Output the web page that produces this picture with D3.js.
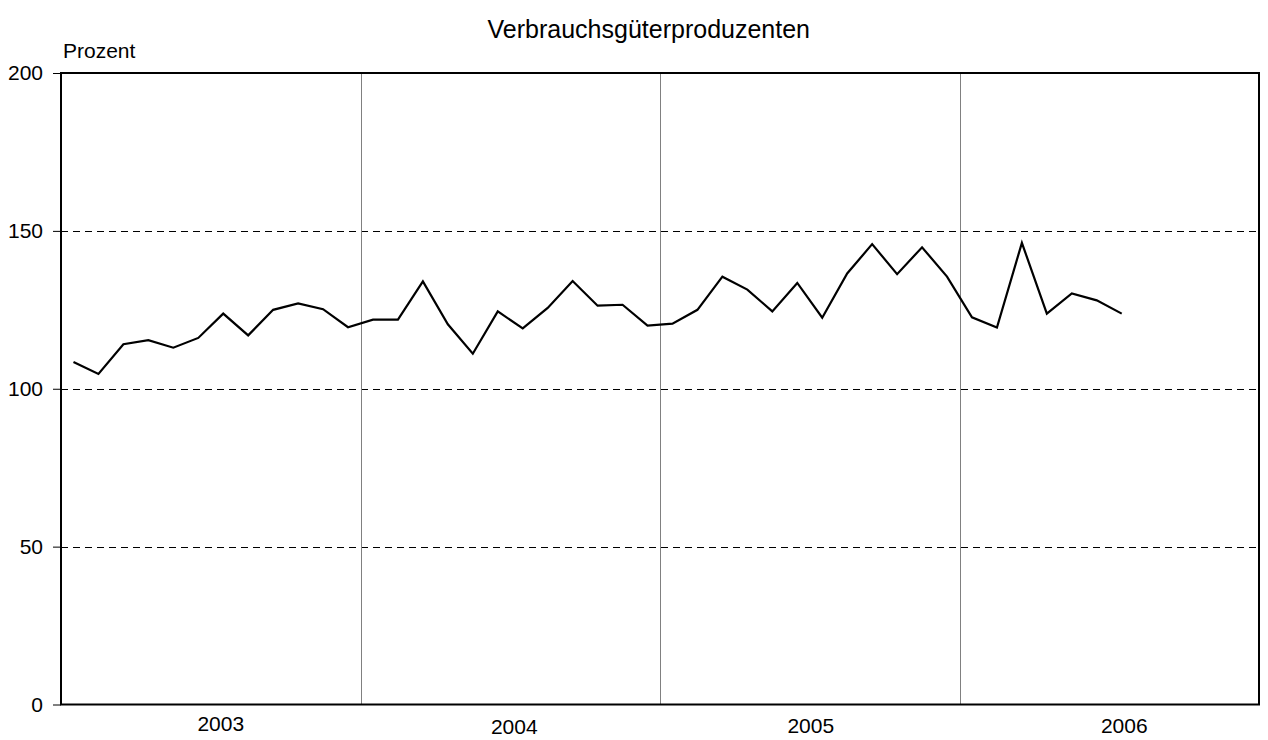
<!DOCTYPE html>
<html>
<head>
<meta charset="utf-8">
<script src="https://cdn.jsdelivr.net/npm/d3@7"></script>
<style>
  body { margin: 0; background: #fff; }
  text { font-family: "Liberation Sans", Arial, sans-serif; fill: #000; }
</style>
</head>
<body>
<script>
const w = 1268;
const h = 740;
const plotLeft = 61, plotRight = 1259, plotTop = 73, plotBottom = 704.5;

const years = ["2003", "2004", "2005", "2006"];
const yTicks = [0, 50, 100, 150, 200];
const gridValues = [50, 100, 150];
// monthly values, Jan 2003 .. Jul 2006
const values = [
  108.5, 104.7, 114.1, 115.4, 113.0, 116.1, 123.8, 116.9, 125.0, 127.0, 125.2, 119.5,
  121.9, 121.9, 134.0, 120.4, 111.1, 124.5, 119.1, 125.6, 134.1, 126.3, 126.6, 120.0,
  120.6, 125.0, 135.5, 131.4, 124.5, 133.5, 122.5, 136.5, 145.8, 136.3, 144.8, 135.5,
  122.6, 119.4, 146.2, 123.8, 130.2, 128.0, 123.8
];

// small layout nudges for the year labels (as placed in the original)
const yearNudgeX = [10, 4, 1, 15];
const yearNudgeY = [0, 3, 2, 2];

const xScale = d3.scaleLinear()
                 .domain([0, years.length * 12])
                 .range([plotLeft, plotRight]);

const yScale = d3.scaleLinear()
                 .domain([0, 200])
                 .range([plotBottom, plotTop]);

const svg = d3.select("body")
              .append("svg")
              .attr("width", w)
              .attr("height", h);

// title
svg.append("text")
   .attr("x", 810)
   .attr("y", 38)
   .attr("text-anchor", "end")
   .style("font-size", "25px")
   .text("Verbrauchsgüterproduzenten");

svg.append("text")
   .attr("x", 63)
   .attr("y", 58)
   .style("font-size", "21px")
   .text("Prozent");

// dashed grid
svg.selectAll(".grid")
   .data(gridValues)
   .enter()
   .append("line")
   .attr("class", "grid")
   .attr("x1", plotLeft)
   .attr("x2", plotRight)
   .attr("y1", d => Math.round(yScale(d)) + 0.5)
   .attr("y2", d => Math.round(yScale(d)) + 0.5)
   .attr("stroke", "#000")
   .attr("stroke-width", 1)
   .attr("stroke-dasharray", "7,5");

// year separators
svg.selectAll(".sep")
   .data(years.slice(1))
   .enter()
   .append("line")
   .attr("class", "sep")
   .attr("x1", (d, i) => Math.round(xScale((i + 1) * 12)) + 0.5)
   .attr("x2", (d, i) => Math.round(xScale((i + 1) * 12)) + 0.5)
   .attr("y1", plotTop)
   .attr("y2", plotBottom)
   .attr("stroke", "#808080")
   .attr("stroke-width", 1);

// y axis
const yAxis = d3.axisLeft(yScale)
                .tickValues(yTicks)
                .tickSize(8)
                .tickPadding(10);

const gy = svg.append("g")
   .attr("transform", "translate(" + plotLeft + ",0)")
   .call(yAxis);
gy.select(".domain").remove();
gy.selectAll("text").style("font-size", "21px").style("font-family", "'Liberation Sans', Arial, sans-serif").attr("fill", "#000");
gy.selectAll("line").attr("stroke", "#000");

// year labels
svg.selectAll(".year")
   .data(years)
   .enter()
   .append("text")
   .attr("class", "year")
   .attr("x", (d, i) => xScale(i * 12 + 6) + yearNudgeX[i])
   .attr("y", (d, i) => 731 + yearNudgeY[i])
   .attr("text-anchor", "middle")
   .style("font-size", "21px")
   .text(d => d);

// frame
svg.append("rect")
   .attr("x", plotLeft)
   .attr("y", plotTop)
   .attr("width", plotRight - plotLeft)
   .attr("height", plotBottom - plotTop)
   .attr("fill", "none")
   .attr("stroke", "#000")
   .attr("stroke-width", 2);

// line
const line = d3.line()
               .x((d, i) => xScale(i + 0.5))
               .y(d => yScale(d));

svg.append("path")
   .datum(values)
   .attr("d", line)
   .attr("fill", "none")
   .attr("stroke", "#000")
   .attr("stroke-width", 2.2)
   .attr("stroke-linejoin", "miter");
</script>
</body>
</html>
